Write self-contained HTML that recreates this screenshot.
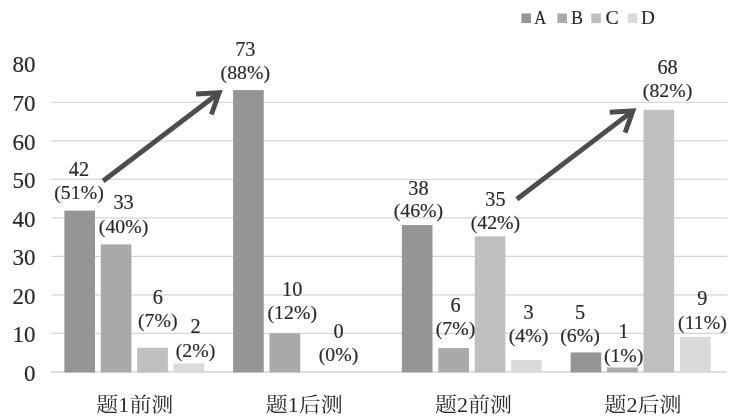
<!DOCTYPE html>
<html lang="zh"><head><meta charset="utf-8"><title>chart</title>
<style>
html,body{margin:0;padding:0;background:#fff;}
svg{display:block;}
text{font-family:"Liberation Serif","Noto Serif CJK SC",serif;fill:#2a2a2a;stroke:#2a2a2a;stroke-width:0.18px;}
</style></head><body>
<svg width="732" height="417" viewBox="0 0 732 417">
<rect width="732" height="417" fill="#fff"/>
<g stroke="#d6d6d6" stroke-width="1.1">
<line x1="51.2" y1="371.90" x2="727.2" y2="371.90" stroke-width="1.6" stroke="#d8d8d8"/>
<line x1="51.2" y1="333.40" x2="727.2" y2="333.40"/>
<line x1="51.2" y1="294.90" x2="727.2" y2="294.90"/>
<line x1="51.2" y1="256.40" x2="727.2" y2="256.40"/>
<line x1="51.2" y1="217.90" x2="727.2" y2="217.90"/>
<line x1="51.2" y1="179.40" x2="727.2" y2="179.40"/>
<line x1="51.2" y1="140.90" x2="727.2" y2="140.90"/>
<line x1="51.2" y1="102.40" x2="727.2" y2="102.40"/>
</g>
<rect x="64.35" y="210.60" width="30.65" height="161.80" fill="#959595"/>
<rect x="100.80" y="244.40" width="30.65" height="128.00" fill="#a9a9a9"/>
<rect x="137.25" y="347.80" width="30.65" height="24.60" fill="#bfbfbf"/>
<rect x="173.70" y="363.50" width="30.65" height="8.90" fill="#dadada"/>
<rect x="233.10" y="90.10" width="30.65" height="282.30" fill="#959595"/>
<rect x="269.55" y="333.30" width="30.65" height="39.10" fill="#a9a9a9"/>
<rect x="401.85" y="225.05" width="30.65" height="147.35" fill="#959595"/>
<rect x="438.30" y="348.10" width="30.65" height="24.30" fill="#a9a9a9"/>
<rect x="474.75" y="236.40" width="30.65" height="136.00" fill="#bfbfbf"/>
<rect x="511.20" y="360.00" width="30.65" height="12.40" fill="#dadada"/>
<rect x="570.60" y="352.40" width="30.65" height="20.00" fill="#959595"/>
<rect x="607.05" y="367.50" width="30.65" height="4.90" fill="#a9a9a9"/>
<rect x="643.50" y="109.80" width="30.65" height="262.60" fill="#bfbfbf"/>
<rect x="679.95" y="336.90" width="30.65" height="35.50" fill="#dadada"/>
<text transform="translate(35.4 381.00) scale(0.980 1)" font-size="23.50" text-anchor="end">0</text>
<text transform="translate(35.4 342.43) scale(0.980 1)" font-size="23.50" text-anchor="end">10</text>
<text transform="translate(35.4 303.85) scale(0.980 1)" font-size="23.50" text-anchor="end">20</text>
<text transform="translate(35.4 265.27) scale(0.980 1)" font-size="23.50" text-anchor="end">30</text>
<text transform="translate(35.4 226.70) scale(0.980 1)" font-size="23.50" text-anchor="end">40</text>
<text transform="translate(35.4 188.12) scale(0.980 1)" font-size="23.50" text-anchor="end">50</text>
<text transform="translate(35.4 149.55) scale(0.980 1)" font-size="23.50" text-anchor="end">60</text>
<text transform="translate(35.4 110.98) scale(0.980 1)" font-size="23.50" text-anchor="end">70</text>
<text transform="translate(35.4 72.40) scale(0.980 1)" font-size="23.50" text-anchor="end">80</text>
<text transform="translate(134.80 411.7) scale(1.07 1)" font-size="20.60" text-anchor="middle" style="stroke-width:0">题1前测</text>
<text transform="translate(304.20 411.7) scale(1.07 1)" font-size="20.60" text-anchor="middle" style="stroke-width:0">题1后测</text>
<text transform="translate(473.60 411.7) scale(1.07 1)" font-size="20.60" text-anchor="middle" style="stroke-width:0">题2前测</text>
<text transform="translate(643.00 411.7) scale(1.07 1)" font-size="20.60" text-anchor="middle" style="stroke-width:0">题2后测</text>
<text transform="translate(79.00 175.90) scale(1.000 1)" font-size="20.30" text-anchor="middle">42</text>
<text transform="translate(79.00 198.60) scale(1.010 1)" font-size="19.60" text-anchor="middle">(51%)</text>
<text transform="translate(123.55 209.00) scale(1.000 1)" font-size="20.30" text-anchor="middle">33</text>
<text transform="translate(123.55 232.70) scale(1.010 1)" font-size="19.60" text-anchor="middle">(40%)</text>
<text transform="translate(157.80 303.60) scale(1.000 1)" font-size="20.30" text-anchor="middle">6</text>
<text transform="translate(157.80 327.40) scale(1.010 1)" font-size="19.60" text-anchor="middle">(7%)</text>
<text transform="translate(195.45 333.40) scale(1.000 1)" font-size="20.30" text-anchor="middle">2</text>
<text transform="translate(195.45 356.60) scale(1.010 1)" font-size="19.60" text-anchor="middle">(2%)</text>
<text transform="translate(245.30 55.50) scale(1.000 1)" font-size="20.30" text-anchor="middle">73</text>
<text transform="translate(245.30 78.90) scale(1.010 1)" font-size="19.60" text-anchor="middle">(88%)</text>
<text transform="translate(292.25 295.80) scale(1.000 1)" font-size="20.30" text-anchor="middle">10</text>
<text transform="translate(292.25 319.40) scale(1.010 1)" font-size="19.60" text-anchor="middle">(12%)</text>
<text transform="translate(338.45 337.90) scale(1.000 1)" font-size="20.30" text-anchor="middle">0</text>
<text transform="translate(338.45 361.40) scale(1.010 1)" font-size="19.60" text-anchor="middle">(0%)</text>
<text transform="translate(418.40 194.60) scale(1.000 1)" font-size="20.30" text-anchor="middle">38</text>
<text transform="translate(418.40 216.90) scale(1.010 1)" font-size="19.60" text-anchor="middle">(46%)</text>
<text transform="translate(455.45 312.00) scale(1.000 1)" font-size="20.30" text-anchor="middle">6</text>
<text transform="translate(455.45 335.10) scale(1.010 1)" font-size="19.60" text-anchor="middle">(7%)</text>
<text transform="translate(495.40 205.90) scale(1.000 1)" font-size="20.30" text-anchor="middle">35</text>
<text transform="translate(495.40 228.90) scale(1.010 1)" font-size="19.60" text-anchor="middle">(42%)</text>
<text transform="translate(528.45 318.50) scale(1.000 1)" font-size="20.30" text-anchor="middle">3</text>
<text transform="translate(528.45 341.60) scale(1.010 1)" font-size="19.60" text-anchor="middle">(4%)</text>
<text transform="translate(580.00 318.50) scale(1.000 1)" font-size="20.30" text-anchor="middle">5</text>
<text transform="translate(580.00 341.60) scale(1.010 1)" font-size="19.60" text-anchor="middle">(6%)</text>
<text transform="translate(623.65 338.30) scale(1.000 1)" font-size="20.30" text-anchor="middle">1</text>
<text transform="translate(623.65 361.70) scale(1.010 1)" font-size="19.60" text-anchor="middle">(1%)</text>
<text transform="translate(667.55 73.80) scale(1.000 1)" font-size="20.30" text-anchor="middle">68</text>
<text transform="translate(667.55 96.60) scale(1.010 1)" font-size="19.60" text-anchor="middle">(82%)</text>
<text transform="translate(702.40 305.40) scale(1.000 1)" font-size="20.30" text-anchor="middle">9</text>
<text transform="translate(702.40 328.80) scale(1.010 1)" font-size="19.60" text-anchor="middle">(11%)</text>
<rect x="521.40" y="13.5" width="9.6" height="9.6" fill="#959595"/>
<text transform="translate(534.30 23.9) scale(0.84 1)" font-size="19.8">A</text>
<rect x="557.40" y="13.5" width="9.6" height="9.6" fill="#a9a9a9"/>
<text transform="translate(571.00 23.9) scale(0.91 1)" font-size="19.8">B</text>
<rect x="591.30" y="13.5" width="9.6" height="9.6" fill="#bfbfbf"/>
<text transform="translate(605.40 23.9) scale(1.00 1)" font-size="19.8">C</text>
<rect x="627.60" y="13.5" width="9.6" height="9.6" fill="#dadada"/>
<text transform="translate(641.00 23.9) scale(0.97 1)" font-size="19.8">D</text>
<g fill="none" stroke="#4d4d4d" stroke-width="4.9" stroke-linejoin="miter" stroke-miterlimit="10"><line x1="103.10" y1="181.00" x2="219.20" y2="92.70"/><polyline points="196.05,94.00 219.20,92.70 211.40,114.50"/></g>
<g fill="none" stroke="#4d4d4d" stroke-width="4.9" stroke-linejoin="miter" stroke-miterlimit="10"><line x1="516.80" y1="199.20" x2="632.90" y2="110.90"/><polyline points="609.75,112.20 632.90,110.90 625.10,132.70"/></g>
</svg>
</body></html>
